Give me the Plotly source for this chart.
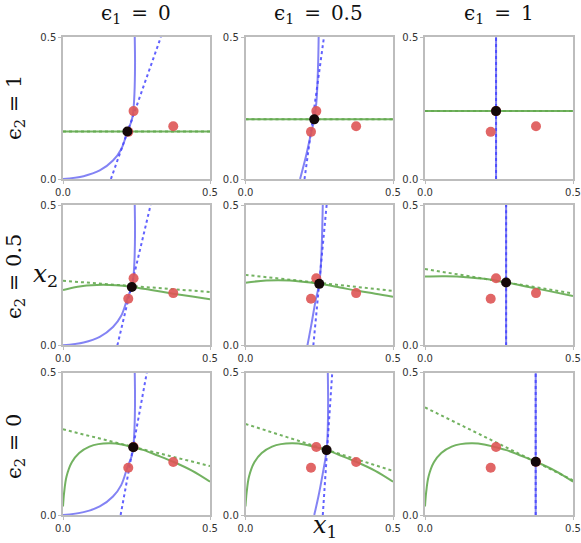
import plotly.graph_objects as go
from plotly.subplots import make_subplots

# ---------------- data ----------------
tick_vals = [0.0, 0.5]
tick_text = ["0.0", "0.5"]
eps1_labels = ["0", "0.5", "1"]      # columns
eps2_labels = ["1", "0.5", "0"]      # rows

# red points (same in every panel)
red_x1 = [0.240, 0.222, 0.375]
red_x2 = [0.239, 0.166, 0.186]

# equilibrium (black) per panel, row-major
eq_x1 = [[0.219, 0.233, 0.240], [0.234, 0.250, 0.274], [0.239, 0.275, 0.374]]
eq_x2 = [[0.167, 0.210, 0.239], [0.208, 0.219, 0.224], [0.238, 0.228, 0.187]]

# blue solid curves (x1 as a function of x2)
blue_c1_x2 = [0.0, 0.01, 0.03, 0.065, 0.105, 0.167, 0.208, 0.238, 0.30, 0.40, 0.50]
blue_c1_x1 = [0.0, 0.07, 0.125, 0.17, 0.198, 0.219, 0.234, 0.239, 0.243, 0.245, 0.244]
blue_r1c2_x2 = [0.0, 0.08, 0.16, 0.21, 0.28, 0.40, 0.50]
blue_r1c2_x1 = [0.185, 0.205, 0.222, 0.233, 0.241, 0.246, 0.248]
blue_r2c2_x2 = [0.0, 0.078, 0.162, 0.219, 0.316, 0.411, 0.50]
blue_r2c2_x1 = [0.21, 0.224, 0.238, 0.25, 0.257, 0.26, 0.262]
blue_r3c2_x2 = [0.0, 0.064, 0.146, 0.228, 0.31, 0.404, 0.50]
blue_r3c2_x1 = [0.233, 0.247, 0.262, 0.275, 0.279, 0.28, 0.279]
blue_c3_x1 = [0.240, 0.274, 0.374]          # vertical lines, rows 1..3
blue_line_x2 = [0.0, 0.5]

# blue dotted (x1 at x2 = 0 and x2 = 0.5), row-major
blue_dot_x1 = [
    [[0.163, 0.333], [0.200, 0.266], [0.240, 0.240]],
    [[0.185, 0.298], [0.230, 0.275], [0.274, 0.274]],
    [[0.196, 0.285], [0.262, 0.294], [0.374, 0.374]],
]

# green solid curves (x2 as a function of x1)
green_r1_x2 = [0.167, 0.210, 0.239]         # horizontal lines, cols 1..3
green_line_x1 = [0.0, 0.5]
green_r2c1_x1 = [0.0, 0.05, 0.115, 0.18, 0.234, 0.30, 0.375, 0.44, 0.50]
green_r2c1_x2 = [0.197, 0.209, 0.215, 0.214, 0.208, 0.197, 0.184, 0.174, 0.164]
green_r2c2_x1 = [0.0, 0.07, 0.15, 0.25, 0.32, 0.375, 0.44, 0.50]
green_r2c2_x2 = [0.223, 0.231, 0.231, 0.219, 0.206, 0.195, 0.184, 0.173]
green_r2c3_x1 = [0.0, 0.07, 0.15, 0.20, 0.274, 0.35, 0.42, 0.50]
green_r2c3_x2 = [0.245, 0.246, 0.242, 0.237, 0.224, 0.208, 0.193, 0.176]
green_r3_x1 = [0.0, 0.004, 0.012, 0.03, 0.055, 0.09, 0.12, 0.16, 0.20, 0.239, 0.275, 0.32, 0.375, 0.44, 0.50]
green_r3_x2 = [0.03, 0.08, 0.135, 0.185, 0.218, 0.24, 0.249, 0.252, 0.248, 0.238, 0.228, 0.21, 0.187, 0.155, 0.117]

# green dotted (x2 at x1 = 0 and x1 = 0.5), row-major
green_dot_x2 = [
    [[0.167, 0.167], [0.210, 0.210], [0.239, 0.239]],
    [[0.230, 0.190], [0.251, 0.194], [0.272, 0.185]],
    [[0.301, 0.172], [0.320, 0.155], [0.378, 0.122]],
]

# ---------------- styling ----------------
BLUE_SOLID = "rgba(90,90,240,0.75)"
BLUE_DOT = "rgba(70,70,255,0.85)"
GREEN_SOLID = "rgba(100,170,80,0.9)"
GREEN_DOT = "rgba(100,170,80,0.9)"
RED = "rgba(222,85,85,0.9)"
BLACK = "#140808"

blue_solid = {
    (0, 0): (blue_c1_x1, blue_c1_x2), (1, 0): (blue_c1_x1, blue_c1_x2), (2, 0): (blue_c1_x1, blue_c1_x2),
    (0, 1): (blue_r1c2_x1, blue_r1c2_x2), (1, 1): (blue_r2c2_x1, blue_r2c2_x2), (2, 1): (blue_r3c2_x1, blue_r3c2_x2),
}
for r in range(3):
    blue_solid[(r, 2)] = ([blue_c3_x1[r]] * 2, blue_line_x2)

green_solid = {
    (1, 0): (green_r2c1_x1, green_r2c1_x2), (1, 1): (green_r2c2_x1, green_r2c2_x2), (1, 2): (green_r2c3_x1, green_r2c3_x2),
}
for c in range(3):
    green_solid[(0, c)] = (green_line_x1, [green_r1_x2[c]] * 2)
    green_solid[(2, c)] = (green_r3_x1, green_r3_x2)

fig = make_subplots(rows=3, cols=3)

W, H = 581, 543
xdom_px = [(63, 210), (245.5, 393), (425, 573)]
ydom_px = [(37, 179), (205, 345.3), (372.7, 515)]


def px_x(p):
    return p / W


def px_y(p):
    return 1 - p / H


for r in range(3):
    for c in range(3):
        row, col = r + 1, c + 1
        gx, gy = green_solid[(r, c)]
        fig.add_trace(go.Scatter(x=gx, y=gy, mode="lines", line=dict(color=GREEN_SOLID, width=2),
                                 line_shape="spline", hoverinfo="skip"), row=row, col=col)
        fig.add_trace(go.Scatter(x=green_line_x1, y=green_dot_x2[r][c], mode="lines",
                                 line=dict(color=GREEN_DOT, width=2, dash="dot"), hoverinfo="skip"),
                      row=row, col=col)
        bx, by = blue_solid[(r, c)]
        fig.add_trace(go.Scatter(x=bx, y=by, mode="lines", line=dict(color=BLUE_SOLID, width=2),
                                 line_shape="spline", hoverinfo="skip"), row=row, col=col)
        fig.add_trace(go.Scatter(x=blue_dot_x1[r][c], y=blue_line_x2, mode="lines",
                                 line=dict(color=BLUE_DOT, width=2, dash="dot"), hoverinfo="skip"),
                      row=row, col=col)
        fig.add_trace(go.Scatter(x=red_x1, y=red_x2, mode="markers",
                                 marker=dict(color=RED, size=10, line=dict(width=0)), hoverinfo="skip"),
                      row=row, col=col)
        fig.add_trace(go.Scatter(x=[eq_x1[r][c]], y=[eq_x2[r][c]], mode="markers",
                                 marker=dict(color=BLACK, size=10, line=dict(width=0)), hoverinfo="skip"),
                      row=row, col=col)

        idx = r * 3 + c + 1
        xd = [px_x(xdom_px[c][0]), px_x(xdom_px[c][1])]
        yd = [px_y(ydom_px[r][1]), px_y(ydom_px[r][0])]
        axis_common = dict(range=[0, 0.5], tickvals=tick_vals, ticktext=tick_text, showgrid=False,
                           zeroline=False, showline=True, mirror=True, linecolor="#bdbdbd", linewidth=1.5,
                           ticks="outside", ticklen=3, tickcolor="#bdbdbd", automargin=False,
                           tickfont=dict(family="DejaVu Sans", size=10, color="#333333"), fixedrange=True)
        fig.layout["xaxis" + ("" if idx == 1 else str(idx))].update(domain=xd, **axis_common)
        fig.layout["yaxis" + ("" if idx == 1 else str(idx))].update(domain=yd, **axis_common)

SP = "\u2002"
annotations = []
col_centers = [136, 318, 499]
for c in range(3):
    annotations.append(dict(text="ϵ<sub>1</sub>" + SP + "=" + SP + eps1_labels[c], x=px_x(col_centers[c]),
                            y=px_y(14), xref="paper", yref="paper", showarrow=False,
                            xanchor="center", yanchor="middle",
                            font=dict(family="DejaVu Serif", size=20, color="#111111")))
row_centers = [108, 277, 447]
for r in range(3):
    annotations.append(dict(text="ϵ<sub>2</sub> = " + eps2_labels[r], x=px_x(15), y=px_y(row_centers[r]),
                            xref="paper", yref="paper", showarrow=False, textangle=-90,
                            xanchor="center", yanchor="middle",
                            font=dict(family="DejaVu Serif", size=21, color="#111111")))
annotations.append(dict(text="<i>x</i><sub>2</sub>", x=px_x(45), y=px_y(275), xref="paper", yref="paper",
                        showarrow=False, xanchor="center", yanchor="middle",
                        font=dict(family="DejaVu Serif", size=25, color="#111111")))
annotations.append(dict(text="<i>x</i><sub>1</sub>", x=px_x(325), y=px_y(526), xref="paper", yref="paper",
                        showarrow=False, xanchor="center", yanchor="middle",
                        font=dict(family="DejaVu Serif", size=24, color="#111111")))

fig.update_layout(width=W, height=H, margin=dict(l=0, r=0, t=0, b=0, pad=0), showlegend=False,
                  paper_bgcolor="white", plot_bgcolor="white", annotations=annotations)

fig.write_html("out.html", config={"displayModeBar": False},
               post_script="document.body.style.margin='0px';document.body.style.overflow='hidden';")
